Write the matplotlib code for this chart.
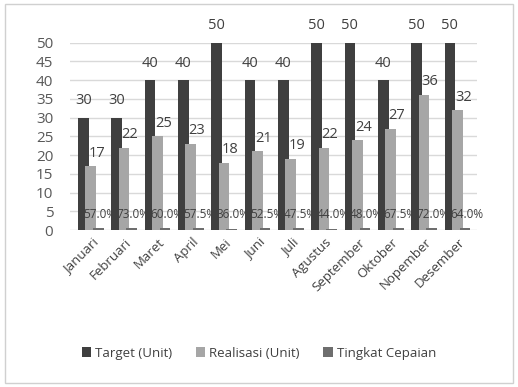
import matplotlib
matplotlib.use('Agg')
import matplotlib.pyplot as plt
import numpy as np

# data
bulan = ['Januari', 'Februari', 'Maret', 'April', 'Mei', 'Juni', 'Juli',
         'Agustus', 'September', 'Oktober', 'Nopember', 'Desember']
target = [30, 30, 40, 40, 50, 40, 40, 50, 50, 40, 50, 50]
realisasi = [17, 22, 25, 23, 18, 21, 19, 22, 24, 27, 36, 32]
capaian = [57.0, 73.0, 60.0, 57.5, 36.0, 52.5, 47.5, 44.0, 48.0, 67.5, 72.0, 64.0]

plt.rcParams['font.family'] = ['Open Sans', 'DejaVu Sans']

fig = plt.figure(figsize=(5.18, 3.87), dpi=100)
ax = fig.add_axes([0.135, 0.405, 0.785, 0.485])

x = np.arange(len(bulan))
w = 0.32
c_target = '#3f3f3f'
c_real = '#a6a6a6'
c_cap = '#6e6e6e'

ax.bar(x - 0.2, target, w, color=c_target, label='Target (Unit)', zorder=3)
ax.bar(x + 0.02, realisasi, w, color=c_real, label='Realisasi (Unit)', zorder=4)
ax.bar(x + 0.25, [c / 100 for c in capaian], w, color=c_cap,
       label='Tingkat Cepaian', zorder=5)

for i in range(len(bulan)):
    ax.text(x[i] - 0.2, target[i] + 2.5, str(target[i]), ha='center', va='bottom',
            fontsize=10.5, color='#404040', zorder=6, clip_on=False)
    ax.text(x[i] + 0.2, realisasi[i] + 1.5, str(realisasi[i]), ha='center', va='bottom',
            fontsize=10.5, color='#404040', zorder=6)
    ax.text(x[i] + 0.3, 4.2, '%.1f%%' % capaian[i], ha='center', va='center',
            fontsize=8.5, color='#404040', zorder=6)

ax.set_ylim(0, 50)
ax.set_yticks(range(0, 51, 5))
ax.set_xlim(-0.6, len(bulan) - 0.4)
ax.set_xticks(x + 0.05)
ax.set_xticklabels(bulan, rotation=45, ha='right', rotation_mode='anchor',
                   fontsize=9.5, color='#404040')
ax.tick_params(axis='y', labelsize=11, colors='#595959', length=0, pad=12)
ax.tick_params(axis='x', length=0, pad=4)
ax.grid(axis='y', color='#d9d9d9', linewidth=1, zorder=0)
for s in ax.spines.values():
    s.set_visible(False)

fig.legend(loc='lower center', bbox_to_anchor=(0.5, 0.04), ncol=3, frameon=False,
           fontsize=9.5, handlelength=0.7, handleheight=0.7, handletextpad=0.3,
           columnspacing=1.8, labelcolor='#404040')

fig.patches.append(plt.Rectangle((0.01, 0.01), 0.98, 0.98, transform=fig.transFigure,
                                 fill=False, edgecolor='#d0d0d0', linewidth=1))

plt.savefig('out.png')
